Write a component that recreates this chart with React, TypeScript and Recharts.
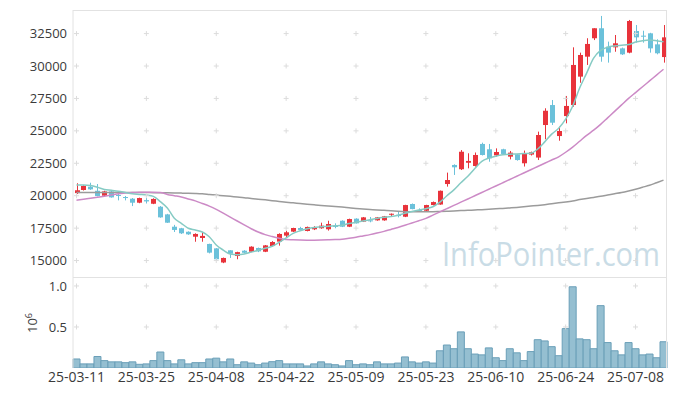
import { Bar, ComposedChart, Line, ReferenceDot, XAxis, YAxis } from "recharts";

const dates = [
  "25-03-11", "25-03-12", "25-03-13", "25-03-14", "25-03-17", "25-03-18", "25-03-19", "25-03-20", "25-03-21", "25-03-24",
  "25-03-25", "25-03-26", "25-03-27", "25-03-28", "25-03-31", "25-04-01", "25-04-02", "25-04-03", "25-04-04", "25-04-07",
  "25-04-08", "25-04-09", "25-04-10", "25-04-11", "25-04-14", "25-04-15", "25-04-16", "25-04-17", "25-04-18", "25-04-21",
  "25-04-22", "25-04-23", "25-04-24", "25-04-25", "25-04-28", "25-04-29", "25-04-30", "25-05-02", "25-05-07", "25-05-08",
  "25-05-09", "25-05-12", "25-05-13", "25-05-14", "25-05-15", "25-05-16", "25-05-19", "25-05-20", "25-05-21", "25-05-22",
  "25-05-23", "25-05-26", "25-05-27", "25-05-28", "25-05-29", "25-05-30", "25-06-02", "25-06-04", "25-06-05", "25-06-09",
  "25-06-10", "25-06-11", "25-06-12", "25-06-13", "25-06-16", "25-06-17", "25-06-18", "25-06-19", "25-06-20", "25-06-23",
  "25-06-24", "25-06-25", "25-06-26", "25-06-27", "25-06-30", "25-07-01", "25-07-02", "25-07-03", "25-07-04", "25-07-07",
  "25-07-08", "25-07-09", "25-07-10", "25-07-11", "25-07-14",
];

const opens = [
  20200, 20440, 20690, 20380, 20000, 20330, 20060, 19900, 19770, 19460,
  19660, 19380, 19150, 18560, 17610, 17490, 17220, 16840, 16740, 16280,
  15940, 14850, 15790, 15350, 15760, 15680, 15970, 15680, 16120, 16460,
  16920, 17230, 17510, 17280, 17410, 17490, 17410, 17690, 18070, 17610,
  18230, 18000, 18100, 18100, 18100, 18530, 18530, 18380, 19360, 18900,
  18840, 19280, 19320, 20900, 22370, 22040, 22540, 22290, 23990, 23580,
  23110, 23580, 23010, 23190, 22500, 23170, 22940, 25450, 26990, 24600,
  26140, 26990, 29180, 30720, 32140, 32910, 31490, 31440, 31360, 31030,
  32700, 32340, 32520, 31670, 30690,
];
const highs = [
  20960, 20800, 21000, 20900, 20380, 20380, 20200, 19980, 19820, 19850,
  19820, 19800, 19200, 18600, 17750, 17520, 17250, 17100, 17200, 16300,
  15960, 15230, 15800, 15680, 15800, 16100, 16000, 16200, 16500, 17100,
  17300, 17530, 17600, 17620, 17650, 17920, 18070, 17870, 18100, 18230,
  18260, 18360, 18360, 18360, 18440, 18630, 18750, 19300, 19400, 19020,
  19300, 19550, 20400, 21780, 22420, 23520, 23270, 23330, 24090, 23990,
  23650, 23620, 23450, 23220, 23480, 23400, 24940, 26740, 27380, 25320,
  27690, 31440, 31030, 32140, 32910, 33860, 31880, 32390, 31420, 33550,
  33160, 32720, 32560, 32060, 33160,
];
const lows = [
  20130, 20400, 20450, 19950, 19950, 19850, 19640, 19640, 19200, 19420,
  19400, 19350, 18300, 17900, 17200, 17050, 16980, 16450, 16450, 15550,
  15050, 14800, 15200, 15100, 15560, 15650, 15650, 15650, 16080, 16150,
  16750, 17200, 17330, 17250, 17350, 17450, 17310, 17490, 17580, 17580,
  17850, 17970, 17950, 18070, 18070, 18380, 18330, 18350, 18950, 18750,
  18820, 19250, 19300, 20700, 21600, 21980, 22110, 22240, 23100, 22620,
  23010, 23180, 22800, 22700, 22250, 23100, 22750, 24350, 25450, 24240,
  25580, 26860, 28710, 30080, 32000, 30330, 30260, 31100, 30850, 30980,
  31800, 31800, 31030, 30900, 30260,
];
const closes = [
  20420, 20750, 20490, 19980, 20330, 19870, 19980, 19820, 19460, 19820,
  19560, 19750, 18330, 17920, 17360, 17100, 17020, 17050, 16900, 15610,
  15100, 15200, 15530, 15650, 15600, 16070, 15710, 16170, 16430, 17050,
  17180, 17510, 17360, 17590, 17510, 17690, 17820, 17590, 17610, 18200,
  17870, 18330, 18030, 18330, 18410, 18610, 18430, 19280, 18970, 18820,
  19280, 19510, 20380, 21210, 22190, 23390, 22680, 23140, 23140, 22880,
  23370, 23220, 23320, 22750, 23270, 23350, 24680, 26550, 25630, 24990,
  26920, 30080, 30850, 31700, 32910, 30720, 31030, 31750, 30900, 33470,
  32210, 32260, 31360, 30980, 32210,
];

// volume in millions of shares
const volumes = [
  0.11, 0.05, 0.05, 0.14, 0.09, 0.075, 0.075, 0.065, 0.075, 0.045,
  0.05, 0.09, 0.195, 0.09, 0.05, 0.1, 0.05, 0.065, 0.065, 0.11,
  0.12, 0.075, 0.11, 0.04, 0.075, 0.06, 0.04, 0.06, 0.077, 0.09,
  0.05, 0.05, 0.05, 0.025, 0.05, 0.075, 0.05, 0.04, 0.025, 0.09,
  0.04, 0.05, 0.04, 0.075, 0.05, 0.05, 0.06, 0.135, 0.075, 0.06,
  0.075, 0.06, 0.21, 0.28, 0.235, 0.44, 0.235, 0.17, 0.16, 0.245,
  0.125, 0.09, 0.235, 0.185, 0.09, 0.2, 0.345, 0.33, 0.26, 0.15,
  0.48, 0.99, 0.355, 0.345, 0.235, 0.76, 0.31, 0.21, 0.16, 0.31,
  0.235, 0.16, 0.17, 0.125, 0.32,
];

const ma5 = [
  20820, 20820, 20780, 20650, 20480, 20420, 20350, 20250, 20150, 20100,
  20050, 19950, 19540, 19050, 18260, 17870, 17490, 17360, 17200, 16840,
  16200, 15810, 15500, 15450, 15500, 15650, 15800, 15950, 16100, 16400,
  16750, 17100, 17300, 17450, 17550, 17600, 17650, 17680, 17720, 17850,
  17950, 18050, 18150, 18250, 18330, 18400, 18500, 18640, 18780, 18900,
  19000, 19150, 19500, 20000, 20450, 21000, 21500, 22100, 22650, 22900,
  23050, 23150, 23200, 23220, 23250, 23270, 23600, 24150, 24750, 25200,
  25900, 26900, 28300, 29450, 30600, 31200, 31450, 31550, 31600, 31650,
  31850, 31950, 32000, 31950, 31870,
];
const ma20 = [
  19650, 19720, 19800, 19880, 19960, 20050, 20150, 20200, 20240, 20260,
  20270, 20270, 20250, 20100, 20000, 19900, 19750, 19600, 19400, 19200,
  18950, 18650, 18350, 18050, 17750, 17450, 17200, 17000, 16850, 16720,
  16620, 16600, 16580, 16570, 16570, 16580, 16600, 16620, 16650, 16720,
  16800, 16900, 17000, 17120, 17250, 17400, 17550, 17720, 17900, 18070,
  18250, 18500, 18750, 19000, 19250, 19500, 19750, 20000, 20250, 20500,
  20750, 21000, 21250, 21500, 21750, 22000, 22250, 22500, 22750, 23000,
  23350, 23750, 24200, 24650, 25050, 25500, 26000, 26500, 27000, 27500,
  27950, 28400, 28850, 29300, 29750,
];
const ma60 = [
  20250, 20250, 20250, 20250, 20250, 20250, 20245, 20240, 20240, 20240,
  20240, 20235, 20230, 20220, 20210, 20200, 20190, 20175, 20150, 20100,
  20050, 20000, 19950, 19900, 19850, 19780, 19730, 19680, 19620, 19560,
  19500, 19450, 19400, 19350, 19300, 19250, 19210, 19160, 19120, 19070,
  19020, 18980, 18940, 18900, 18870, 18840, 18800, 18770, 18760, 18760,
  18760, 18770, 18780, 18800, 18820, 18850, 18870, 18900, 18920, 18950,
  18990, 19020, 19060, 19100, 19150, 19200, 19250, 19310, 19380, 19450,
  19520, 19600, 19700, 19790, 19870, 19950, 20050, 20150, 20250, 20370,
  20500, 20650, 20800, 21000, 21200,
];

const priceTicks = [15000, 17500, 20000, 22500, 25000, 27500, 30000, 32500];
const volumeTicks = [0.5, 1.0];
const tickDates = dates.filter((_, i) => i % 10 === 0);

const UP = "#e8333b";
const DOWN = "#6bc1da";
const FRAME = "#e2e2e2";
const FONT = "'Open Sans', sans-serif";
const tickStyle = { fill: "#3a3a3a", fontSize: 13, fontFamily: FONT };

const rows = dates.map((date, i) => ({
  date,
  open: opens[i],
  high: highs[i],
  low: lows[i],
  close: closes[i],
  volume: volumes[i],
  ma5: ma5[i],
  ma20: ma20[i],
  ma60: ma60[i],
}));

function Candle(props: any) {
  let { x, y, width, height } = props;
  const { open, close, high, low } = props.payload;
  if (height < 0) {
    y += height;
    height = -height;
  }
  const k = high === low ? 0 : height / (high - low);
  const yo = y + (high - open) * k;
  const yc = y + (high - close) * k;
  const color = close >= open ? UP : DOWN;
  const cx = Math.round(x + width / 2) + 0.5;
  const top = Math.min(yo, yc);
  return (
    <g>
      <line x1={cx} x2={cx} y1={y} y2={y + height} stroke={color} strokeWidth={1} />
      <rect x={cx - 2.5} y={top} width={5} height={Math.max(1, Math.abs(yo - yc))} fill={color} />
    </g>
  );
}

function Plus(props: any) {
  const { cx, cy } = props;
  if (cx == null || cy == null) return null;
  return (
    <g stroke="#dcdcdc" strokeWidth={1}>
      <line x1={cx - 2.5} x2={cx + 2.5} y1={cy} y2={cy} />
      <line x1={cx} x2={cx} y1={cy - 2.5} y2={cy + 2.5} />
    </g>
  );
}

export default function App() {
  return (
    <div style={{ position: "absolute", left: 0, top: 0, width: 677, height: 396, background: "#fff" }}>
      <svg width={677} height={396} style={{ position: "absolute", left: 0, top: 0 }}>
        <text x={442} y={266} fontSize={32} fontFamily={FONT} fill="#c9dce6" textLength={218} lengthAdjust="spacingAndGlyphs">
          InfoPointer.com
        </text>
        <text transform="translate(37,333) rotate(-90)" fontSize={13} fontFamily={FONT} fill="#3a3a3a">
          10<tspan dy={-5} fontSize={9}>6</tspan>
        </text>
      </svg>

      <div style={{ position: "absolute", left: 0, top: 0 }}>
        <ComposedChart width={677} height={278} data={rows} margin={{ top: 10, right: 10, left: 0, bottom: 0 }} barCategoryGap={0}>
          <XAxis dataKey="date" hide />
          <YAxis
            domain={[13655, 34318]}
            ticks={priceTicks}
            allowDataOverflow
            width={73}
            tickLine={false}
            tickSize={4}
            tickMargin={2}
            axisLine={{ stroke: FRAME }}
            tick={tickStyle}
          />
          {tickDates.flatMap((d) =>
            priceTicks.map((v) => <ReferenceDot key={d + v} x={d} y={v} r={0} shape={Plus} />)
          )}
          <Line type="monotone" dataKey="ma60" stroke="#9b9b9b" strokeWidth={1.5} dot={false} isAnimationActive={false} />
          <Line type="monotone" dataKey="ma20" stroke="#cc8ac6" strokeWidth={1.5} dot={false} isAnimationActive={false} />
          <Bar dataKey={(d: any) => [d.low, d.high]} shape={Candle} isAnimationActive={false} />
          <Line type="monotone" dataKey="ma5" stroke="#86cbc4" strokeWidth={1.5} dot={false} isAnimationActive={false} />
        </ComposedChart>
      </div>

      <div style={{ position: "absolute", left: 0, top: 278 }}>
        <ComposedChart width={677} height={118} data={rows} margin={{ top: 0, right: 10, left: 0, bottom: 0 }} barCategoryGap={0}>
          <XAxis
            dataKey="date"
            interval={9}
            height={28}
            tickLine={false}
            axisLine={false}
            tickSize={2}
            tickMargin={2}
            tick={{ ...tickStyle, fontSize: 14 }}
          />
          <YAxis
            domain={[0, 1.097]}
            ticks={volumeTicks}
            allowDataOverflow
            width={73}
            tickLine={false}
            tickSize={4}
            tickMargin={2}
            axisLine={{ stroke: FRAME }}
            tick={tickStyle}
            tickFormatter={(v: number) => v.toFixed(1)}
          />
          {tickDates.flatMap((d) =>
            volumeTicks.map((v) => <ReferenceDot key={d + v} x={d} y={v} r={0} shape={Plus} />)
          )}
          <Bar dataKey="volume" fill="#95bfd1" stroke="#6a9fb8" strokeWidth={1} isAnimationActive={false} />
        </ComposedChart>
      </div>

      <div style={{ position: "absolute", left: 73, top: 10, width: 594, height: 0, borderTop: `1px solid ${FRAME}` }} />
      <div style={{ position: "absolute", left: 73, top: 277, width: 594, height: 0, borderTop: `1px solid ${FRAME}` }} />
      <div style={{ position: "absolute", left: 666, top: 10, width: 0, height: 358, borderLeft: `1px solid ${FRAME}` }} />
    </div>
  );
}
